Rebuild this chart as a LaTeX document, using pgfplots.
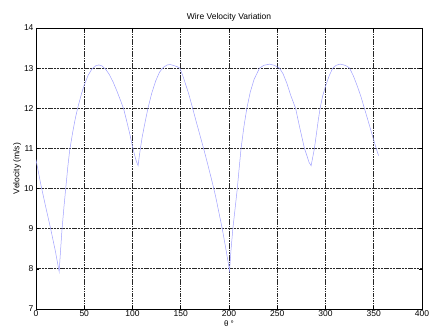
\documentclass[border=0pt]{standalone}
\usepackage{fontspec}
\setmainfont{Liberation Sans}
\usepackage{pgfplots}
\pgfplotsset{compat=1.18}
\definecolor{curve}{RGB}{160,160,255}
\begin{document}
\begin{tikzpicture}
\begin{axis}[
  scale only axis,
  width=386pt, height=281pt,
  xmin=0, xmax=400, ymin=7, ymax=14,
  xtick={0,50,...,400}, ytick={7,8,...,14},
  /pgf/number format/assume math mode=true,
  tick label style={font=\fontsize{8.5}{10}\selectfont},
  label style={font=\fontsize{8.5}{10}\selectfont},
  title style={font=\fontsize{8.5}{10}\selectfont, yshift=-3pt},
  title={Wire Velocity Variation},
  xlabel={θ °}, ylabel={Velocity (m/s)},
  xlabel style={font=\fontsize{8}{9}\selectfont, yshift=3.5pt},
  ylabel style={yshift=-4pt},
  xticklabel style={yshift=1.5pt},
  yticklabel style={xshift=1pt},
  axis line style={black, line width=0.9pt},
  tick style={black, line width=0.6pt},
  tick align=inside,
  major tick length=3pt,
  grid=major,
  major grid style={black!85, line width=0.9pt, dash pattern=on 4.5pt off 1pt on 0.7pt off 0.9pt on 0.7pt off 0.9pt on 0.7pt off 0.9pt on 0.7pt off 1pt},
]
\addplot[curve, line width=0.5pt] coordinates {
(0,10.72) (5,10.1) (10,9.55) (15,9.02) (20,8.45) (24,7.93)
(25,8.3) (27,9.0) (29,9.55) (31,10.05) (33,10.55) (35,10.97) (38,11.4) (41,11.78)
(44,12.08) (47,12.35) (50,12.58) (54,12.82) (58,12.98) (62,13.06) (65,13.08)
(68,13.06) (72,12.98) (76,12.84) (80,12.65) (84,12.42) (88,12.17) (91,11.97)
(94,11.68) (97,11.38) (100,11.05) (102,10.85) (104,10.68) (105.8,10.57)
(107,10.8) (108.2,11.0) (110,11.28) (113,11.65) (116,12.0) (120,12.38) (124,12.68)
(128,12.9) (132,13.02) (136,13.08) (139,13.09) (142,13.07) (146,13.04) (149,13.0)
(152,12.82) (155,12.6) (158,12.38) (162,12.03) (166,11.67) (170,11.32) (174,10.97)
(178,10.6) (182,10.22) (186,9.82) (190,9.35) (193,9.0) (196,8.6) (198.5,8.25) (200.6,7.95)
(202,8.45) (204,9.0) (206.3,9.5) (208.6,10.0) (210.5,10.5) (212.5,11.0) (215.5,11.55)
(218.5,12.0) (222,12.4) (226,12.72) (231.6,13.0) (236,13.07) (242,13.1) (247,13.07)
(252.3,13.0) (256,12.86) (260,12.62) (264,12.32) (269,12.0) (273,11.55) (278.2,11.0)
(281,10.8) (283,10.65) (285.1,10.57)
(288.5,11.0) (290.5,11.35) (292.5,11.7) (294.4,12.0) (297,12.3) (300,12.55) (304,12.82)
(307.5,13.0) (311,13.07) (315,13.1) (319,13.08) (322,13.05) (325,13.0) (329,12.8)
(333,12.55) (337,12.27) (340.3,12.0) (344,11.7) (348,11.37) (352.5,11.0) (355,10.82)
};
\end{axis}
\pgfresetboundingbox
\path (current axis.south west) ++(-36pt,-23pt) rectangle (current axis.north east) ++(9pt,28pt);
\end{tikzpicture}
\end{document}
